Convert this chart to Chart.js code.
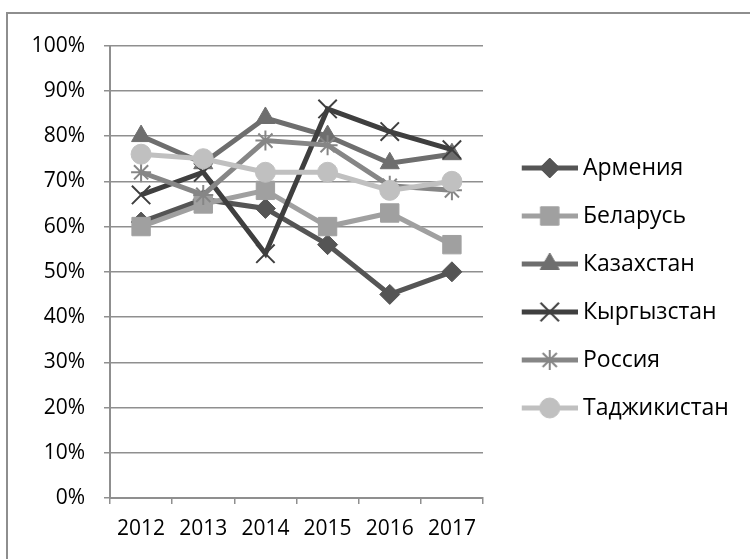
<!DOCTYPE html>
<html>
<head>
<meta charset="utf-8">
<script src="https://cdn.jsdelivr.net/npm/chart.js@4.4.0/dist/chart.umd.min.js"></script>
<style>
    html, body { margin: 0; padding: 0; background: #fff; overflow: hidden; }
    #frame { position: absolute; left: 6px; top: 12px; width: 780px; height: 600px; border: 2px solid #8e8e8e; }
    #wrap { position: absolute; left: 8px; top: 14px; width: 742px; height: 548px; }
</style>
</head>
<body>
<div id="frame"></div>
<div id="wrap"><canvas id="lineChart"></canvas></div>
<script>
// values, in percent
let years = ['2012', '2013', '2014', '2015', '2016', '2017'];
let countries = ['Армения', 'Беларусь', 'Казахстан', 'Кыргызстан', 'Россия', 'Таджикистан'];
let armenia    = [61, 66, 64, 56, 45, 50];
let belarus    = [60, 65, 68, 60, 63, 56];
let kazakhstan = [80, 74, 84, 80, 74, 76];
let kyrgyzstan = [67, 72, 54, 86, 81, 77];
let russia     = [72, 67, 79, 78, 69, 68];
let tajikistan = [76, 75, 72, 72, 68, 70];
let yTicks = [0, 10, 20, 30, 40, 50, 60, 70, 80, 90, 100];

let seriesValues = [armenia, belarus, kazakhstan, kyrgyzstan, russia, tajikistan];

// marker look per series (grey shades like the original)
let seriesStyle = [
    { color: '#555555', point: 'rectRot',  radius: 10, pw: 1 },
    { color: '#a0a0a0', point: 'rect',     radius: 13, pw: 1 },
    { color: '#6e6e6e', point: 'triangle', radius: 11, pw: 1 },
    { color: '#3f3f3f', point: 'crossRot', radius: 13, pw: 2 },
    { color: '#868686', point: 'star',     radius: 10, pw: 2 },
    { color: '#c0c0c0', point: 'circle',   radius: 10, pw: 1 }
];

Chart.defaults.font.family = "'Open Sans'";
Chart.defaults.font.size = 21;
Chart.defaults.color = '#000';

// legend symbol: short line with the marker in the middle
let legendIcon = (st) => {
    let c = document.createElement('canvas');
    c.width = 76;
    c.height = 26;
    let ctx = c.getContext('2d');
    ctx.strokeStyle = st.color;
    ctx.fillStyle = st.color;
    ctx.lineWidth = 5;
    ctx.beginPath();
    ctx.moveTo(20, 13);
    ctx.lineTo(76, 13);
    ctx.stroke();
    ctx.lineWidth = st.pw;
    Chart.helpers.drawPoint(ctx, { pointStyle: st.point, radius: st.radius, rotation: 0, borderWidth: st.pw }, 48, 13);
    return c;
};

let icons = seriesStyle.map(legendIcon);

let datasets = countries.map((name, i) => ({
    label: name,
    data: seriesValues[i],
    borderColor: seriesStyle[i].color,
    backgroundColor: seriesStyle[i].color,
    borderWidth: 5,
    tension: 0,
    fill: false,
    pointStyle: seriesStyle[i].point,
    pointRadius: seriesStyle[i].radius,
    pointHoverRadius: seriesStyle[i].radius,
    pointBorderWidth: seriesStyle[i].pw,
    pointBackgroundColor: seriesStyle[i].color,
    pointBorderColor: seriesStyle[i].color,
    order: 6 - i // later series on top
}));

let gridGrey = '#8f8f8f';

new Chart(document.getElementById('lineChart').getContext('2d'), {
    type: 'line',
    data: { labels: years, datasets: datasets },
    options: {
        responsive: true,
        maintainAspectRatio: false,
        animation: false,
        events: [],
        layout: { padding: { top: 0, bottom: 0, left: 0, right: 15 } },
        plugins: {
            tooltip: { enabled: false },
            // empty title only pushes the plot area down, legend keeps full height
            title: {
                display: true,
                text: ' ',
                fullSize: false,
                font: { size: 10 },
                padding: { top: 18, bottom: 0 }
            },
            legend: {
                position: 'right',
                maxWidth: 252,
                labels: {
                    usePointStyle: true,
                    pointStyleWidth: 63.5,
                    padding: 25,
                    color: '#000',
                    font: { size: 23 },
                    generateLabels: (chart) => chart.data.datasets.map((ds, i) => ({
                        text: ds.label,
                        pointStyle: icons[i],
                        fillStyle: ds.borderColor,
                        strokeStyle: ds.borderColor,
                        lineWidth: 0,
                        hidden: false,
                        datasetIndex: i,
                        fontColor: '#000'
                    }))
                }
            }
        },
        scales: {
            x: {
                offset: true,
                grid: { offset: true, drawOnChartArea: false, drawTicks: true, tickLength: 6, color: gridGrey, lineWidth: 1.5 },
                border: { display: true, color: gridGrey, width: 2 },
                ticks: { padding: 12, maxRotation: 0, autoSkip: false },
                afterFit: (scale) => { scale.height = 64; }
            },
            y: {
                min: 0,
                max: 100,
                afterBuildTicks: (scale) => { scale.ticks = yTicks.map(v => ({ value: v })); },
                ticks: { padding: 19, callback: (v) => v + '%' },
                grid: { color: gridGrey, lineWidth: 1.5, tickLength: 6 },
                border: { display: true, color: gridGrey, width: 2 },
                afterFit: (scale) => { scale.width = 102; }
            }
        }
    }
});
</script>
</body>
</html>
